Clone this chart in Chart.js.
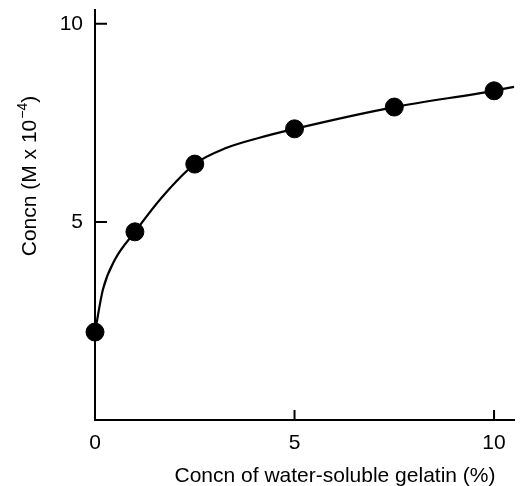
<!DOCTYPE html>
<html>
<head>
<meta charset="utf-8">
<script src="https://cdn.jsdelivr.net/npm/chart.js@4/dist/chart.umd.min.js"></script>
<style>
  html, body { margin: 0; padding: 0; background: #fff; }
  #wrap { width: 524px; height: 486px; }
</style>
</head>
<body>
<div id="wrap"><canvas id="gelatinChart"></canvas></div>
<script>
// measured points
const gelatinPct = [0, 1, 2.5, 5, 7.5, 10];
const concn = [2.22, 4.75, 6.46, 7.35, 7.90, 8.31];

// fitted curve (runs past the last point to the edge)
const curveX = [0, 0.2, 0.5, 1, 1.7, 2.5, 3.3, 4.1, 5, 7.5, 10, 10.5];
const curveY = [2.22, 3.3, 4.05, 4.75, 5.65, 6.46, 6.87, 7.12, 7.35, 7.9, 8.31, 8.41];

const xTicks = [0, 5, 10];
const yTicks = [5, 10];

const xTitle = 'Concn of water-soluble gelatin (%)';
const yTitle = ['Concn (M x 10', '\u22124', ')'];

const FONT = "'Liberation Sans', Arial, sans-serif";

// inward tick marks and the two axis titles
const axisDecor = {
  id: 'axisDecor',
  afterDraw(chart) {
    const { ctx, chartArea, scales } = chart;
    ctx.save();
    ctx.strokeStyle = '#000';
    ctx.lineWidth = 2;
    ctx.beginPath();
    xTicks.forEach(v => {
      const px = scales.x.getPixelForValue(v);
      ctx.moveTo(px, chartArea.bottom);
      ctx.lineTo(px, chartArea.bottom - 10);
    });
    yTicks.forEach(v => {
      const py = scales.y.getPixelForValue(v);
      ctx.moveTo(chartArea.left, py);
      ctx.lineTo(chartArea.left + 12, py);
    });
    ctx.stroke();

    ctx.fillStyle = '#000';
    ctx.textBaseline = 'alphabetic';

    // x title
    ctx.font = '21px ' + FONT;
    ctx.textAlign = 'center';
    ctx.fillText(xTitle, 335, 482);

    // y title, rotated, with superscript exponent
    const big = '21px ' + FONT, small = '14px ' + FONT;
    ctx.font = big;
    const w1 = ctx.measureText(yTitle[0]).width;
    const w3 = ctx.measureText(yTitle[2]).width;
    ctx.font = small;
    const w2 = ctx.measureText(yTitle[1]).width;
    const total = w1 + w2 + w3 + 1;
    ctx.translate(36, 176);
    ctx.rotate(-Math.PI / 2);
    ctx.textAlign = 'left';
    let x0 = -total / 2;
    ctx.font = big;
    ctx.fillText(yTitle[0], x0, 0);
    ctx.font = small;
    ctx.fillText(yTitle[1], x0 + w1 + 1, -9);
    ctx.font = big;
    ctx.fillText(yTitle[2], x0 + w1 + w2 + 1, 0);
    ctx.restore();
  }
};

new Chart(document.getElementById('gelatinChart'), {
  type: 'scatter',
  data: {
    datasets: [
      {
        label: 'fit',
        type: 'line',
        data: curveX.map((x, i) => ({ x: x, y: curveY[i] })),
        borderColor: '#000',
        borderWidth: 2.2,
        pointRadius: 0,
        cubicInterpolationMode: 'monotone',
        fill: false,
        order: 2
      },
      {
        label: 'data',
        data: gelatinPct.map((x, i) => ({ x: x, y: concn[i] })),
        backgroundColor: '#000',
        borderColor: '#000',
        pointRadius: 9,
        order: 1
      }
    ]
  },
  options: {
    responsive: true,
    maintainAspectRatio: false,
    animation: false,
    clip: false,
    layout: { padding: { top: 10, right: 0, left: 0, bottom: 0 } },
    plugins: {
      legend: { display: false },
      tooltip: { enabled: false }
    },
    scales: {
      x: {
        type: 'linear',
        min: 0,
        max: 10.5,
        afterBuildTicks: s => { s.ticks = xTicks.map(v => ({ value: v })); },
        afterFit: s => { s.height = 66; s.paddingLeft = 0; s.paddingRight = 0; },
        grid: { display: false, drawTicks: false },
        border: { display: true, color: '#000', width: 2 },
        ticks: { color: '#000', font: { family: FONT, size: 21 }, padding: 11, maxRotation: 0 }
      },
      y: {
        type: 'linear',
        min: 0,
        max: 10.35,
        afterBuildTicks: s => { s.ticks = yTicks.map(v => ({ value: v })); },
        afterFit: s => { s.width = 95; s.paddingTop = 0; s.paddingBottom = 0; },
        grid: { display: false, drawTicks: false },
        border: { display: true, color: '#000', width: 2 },
        ticks: { color: '#000', font: { family: FONT, size: 21 }, padding: 12 }
      }
    }
  },
  plugins: [axisDecor]
});
</script>
</body>
</html>
